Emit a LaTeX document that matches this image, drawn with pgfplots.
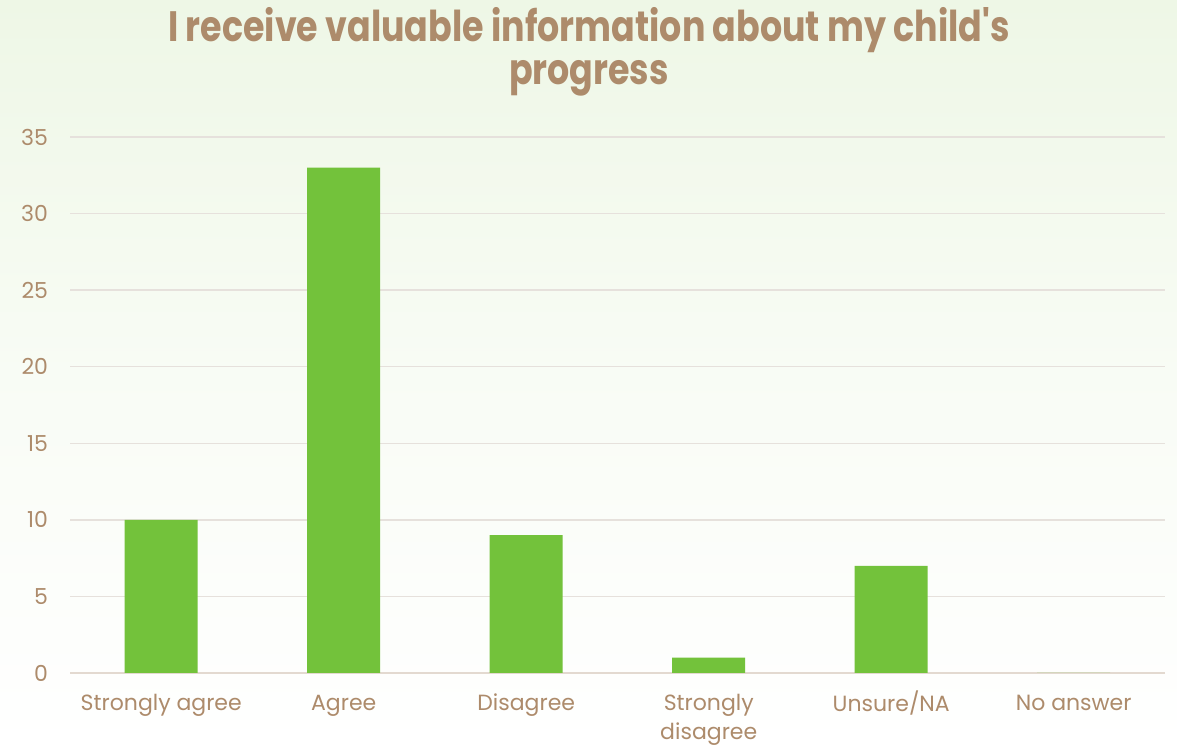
\documentclass[border=0pt]{standalone}
\usepackage{fontspec}
\setmainfont{Poppins}
\newfontfamily\titlefont[FakeStretch=0.82]{Poppins}
\usepackage{pgfplots}
\pgfplotsset{compat=1.18}
\definecolor{barg}{HTML}{73C23B}
\definecolor{txtbrown}{HTML}{AD8B6B}
\definecolor{gridc}{HTML}{E6E1DC}
\definecolor{bgtop}{HTML}{EEF7E6}
\begin{document}
\begin{tikzpicture}[x=0.6pt,y=0.6pt]
% background, 1177 x 747 px, axis corner at (70,74) px
\shade[top color=bgtop, bottom color=white, middle color=white!60!bgtop]
  (-70,-74) rectangle (1107,673);
\useasboundingbox (-70,-74) rectangle (1107,673);
\begin{axis}[
  at={(0,0)}, anchor=south west,
  scale only axis,
  width=657pt, height=321.6pt,
  ybar, bar width=43.8pt,
  xmin=-0.5, xmax=5.5, ymin=0, ymax=35,
  ytick={0,5,...,35},
  xtick=data,
  xticklabels={\strut Strongly agree,\strut Agree,\strut Disagree,{\strut Strongly\\disagree},\strut Unsure/NA,\strut No answer},
  x tick label style={align=center, font=\fontsize{13.2}{17}\selectfont, text=txtbrown, inner sep=0pt, yshift=-10.6pt, anchor=north},
  y tick label style={font=\fontsize{13.2}{16}\selectfont, text=txtbrown, inner sep=0pt, xshift=-13pt},
  /pgf/number format/assume math mode=true,
  major tick length=0pt,
  ymajorgrids, grid style={gridc, line width=0.8pt},
  axis x line*=bottom, axis y line*=left,
  y axis line style={draw=none},
  x axis line style={draw=gridc!92!brown, line width=1pt, -},
  clip=false,
]
\addplot[fill=barg, draw=none] coordinates {
  (0,10) (1,33) (2,9) (3,1) (4,7) (5,0)
};
\end{axis}
\node[font=\titlefont\bfseries\fontsize{25.5}{26}\selectfont, text=txtbrown, align=center, anchor=center]
  at (519,621) {I receive valuable information about my child's\\progress};
\end{tikzpicture}
\end{document}
